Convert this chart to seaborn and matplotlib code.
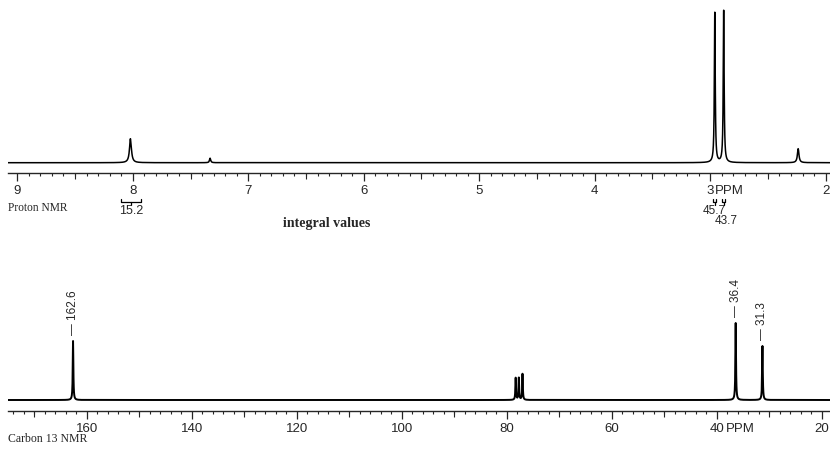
import numpy as np
import pandas as pd
import matplotlib
matplotlib.use("Agg")
import matplotlib.pyplot as plt
import seaborn as sns
from matplotlib.ticker import MultipleLocator, FixedLocator, NullFormatter

# ---------------- data ----------------
# Proton NMR peaks (ppm, relative intensity, half width at half max in ppm)
h_ppm = [8.02, 7.33, 2.96, 2.883, 2.238]
h_int = [24, 4.5, 150, 152, 14]
h_hw = [0.010, 0.006, 0.0045, 0.0045, 0.008]
h_ticks = [9, 8, 7, 6, 5, 4, 3, 2]
h_tick_labels = ["9", "8", "7", "6", "5", "4", "3", "2"]
# integrals
h_integral_vals = ["15.2", "45.7", "43.7"]
h_integral_pos = [8.016, 2.96, 2.883]
h_bracket = [8.10, 7.93]

# Carbon 13 NMR peaks
c_ppm = [162.6, 78.3, 77.7, 77.0, 36.4, 31.3]
c_int = [59, 22, 22, 26, 77, 54]
c_hw = 0.07
c_labelled = [162.6, 36.4, 31.3]
c_label_text = ["162.6", "36.4", "31.3"]
c_ticks = [160, 140, 120, 100, 80, 60, 40, 20]
c_tick_labels = ["160", "140", "120", "100", "80", "60", "40", "20"]

# ---------------- style ----------------
sns.set_style("white")
PLOT_FONT = ["Liberation Sans Narrow", "Liberation Sans", "DejaVu Sans"]
SERIF = ["Liberation Serif", "DejaVu Serif"]
plt.rcParams["font.family"] = PLOT_FONT

W, H = 830, 449
fig = plt.figure(figsize=(W / 100, H / 100), dpi=100)


def frac_rect(x0, x1, ytop, ybot):
    return [x0 / W, 1 - ybot / H, (x1 - x0) / W, (ybot - ytop) / H]


def spectrum(lo, hi, centers, heights, widths, n=40000):
    grid = np.union1d(np.linspace(lo, hi, n), np.asarray(centers, float))
    y = np.zeros_like(grid)
    for c, h, w in zip(centers, heights, widths):
        y += h * w**2 / ((grid - c) ** 2 + w**2)
    return pd.DataFrame({"ppm": grid, "intensity": y})


def style_axis(ax, minor, medium, ticks, labels):
    for s in ["top", "left", "right"]:
        ax.spines[s].set_visible(False)
    ax.spines["bottom"].set_linewidth(1.0)
    ax.set_yticks([])
    ax.set_xlabel("")
    ax.set_ylabel("")
    ax.xaxis.set_major_locator(FixedLocator(ticks))
    ax.set_xticklabels(labels)
    ax.xaxis.set_minor_locator(MultipleLocator(minor))
    ax.tick_params(axis="x", which="major", direction="out", length=6.0,
                   width=0.9, pad=2.5, labelsize=9.5, bottom=True)
    ax.tick_params(axis="x", which="minor", direction="out", length=2.5,
                   width=0.8, bottom=True)
    sec = ax.secondary_xaxis("bottom")
    sec.xaxis.set_major_locator(FixedLocator(medium))
    sec.xaxis.set_major_formatter(NullFormatter())
    sec.tick_params(axis="x", which="major", direction="out", length=4.0, width=0.8)
    sec.xaxis.set_minor_locator(FixedLocator([]))
    sec.spines["bottom"].set_visible(False)


# ---------------- Proton ----------------
axh = fig.add_axes(frac_rect(8, 830, 5, 172.7))
h_lo, h_hi = 1.9625, 9.0805
dfh = spectrum(h_lo, h_hi, h_ppm, h_int, h_hw)
sns.lineplot(data=dfh, x="ppm", y="intensity", ax=axh, color="black",
             linewidth=1.1, estimator=None, sort=False)
axh.set_xlim(h_hi, h_lo)
axh.set_ylim(-10, 157.7)
style_axis(axh, 0.1, [8.5, 7.5, 6.5, 5.5, 4.5, 3.5, 2.5],
           h_ticks, h_tick_labels)
axh.annotate("PPM", xy=(2.835, 0), xycoords=axh.get_xaxis_transform(),
             xytext=(0, -(6.0 + 2.5)), textcoords="offset points",
             ha="center", va="top", fontsize=9.5)

# integral bracket for 15.2
b0, b1 = h_bracket
axh.plot([b0, b0, b1, b1], [-36.5, -39.5, -39.5, -36.5], color="black",
         lw=0.9, clip_on=False)
axh.plot([(b0 + b1) / 2] * 2, [-39.5, -42], color="black", lw=0.9, clip_on=False)
# integral marks for 45.7 / 43.7
for p in h_integral_pos[1:]:
    d = 0.012
    axh.plot([p - d, p - d, p + d, p + d], [-36.5, -39.5, -39.5, -36.5],
             color="black", lw=0.9, clip_on=False)
    axh.plot([p, p], [-39.5, -42.5], color="black", lw=0.9, clip_on=False)
axh.text(h_integral_pos[0], -47.8, h_integral_vals[0], ha="center", va="center",
         fontsize=9)
axh.text(2.962, -48.8, h_integral_vals[1], ha="center", va="center", fontsize=8.5)
axh.text(2.860, -58.8, h_integral_vals[2], ha="center", va="center", fontsize=8.5)

fig.text(8 / W, 1 - 208 / H, "Proton NMR", family=SERIF, fontsize=8.3,
         ha="left", va="center")
fig.text(283 / W, 1 - 223 / H, "integral values", family=SERIF, fontsize=10,
         fontweight="bold", ha="left", va="center")

# ---------------- Carbon ----------------
axc = fig.add_axes(frac_rect(8, 830, 285, 411))
c_lo, c_hi = 18.44, 174.99
dfc = spectrum(c_lo, c_hi, c_ppm, c_int, [c_hw] * len(c_ppm))
sns.lineplot(data=dfc, x="ppm", y="intensity", ax=axc, color="black",
             linewidth=1.4, estimator=None, sort=False)
axc.set_xlim(c_hi, c_lo)
axc.set_ylim(-11, 115)
style_axis(axc, 2, [170, 150, 130, 110, 90, 70, 50, 30],
           c_ticks, c_tick_labels)
axc.annotate("PPM", xy=(35.6, 0), xycoords=axc.get_xaxis_transform(),
             xytext=(0, -(6.0 + 2.5)), textcoords="offset points",
             ha="center", va="top", fontsize=9.5)

for p, t in zip(c_labelled, c_label_text):
    h = c_int[c_ppm.index(p)]
    axc.text(p, h + 6, "\u2014 " + t, rotation=90, ha="center", va="bottom",
             fontsize=8.5)

fig.text(8 / W, 1 - 439 / H, "Carbon 13 NMR", family=SERIF, fontsize=8.5,
         ha="left", va="center")

fig.savefig("out.png", dpi=100)
